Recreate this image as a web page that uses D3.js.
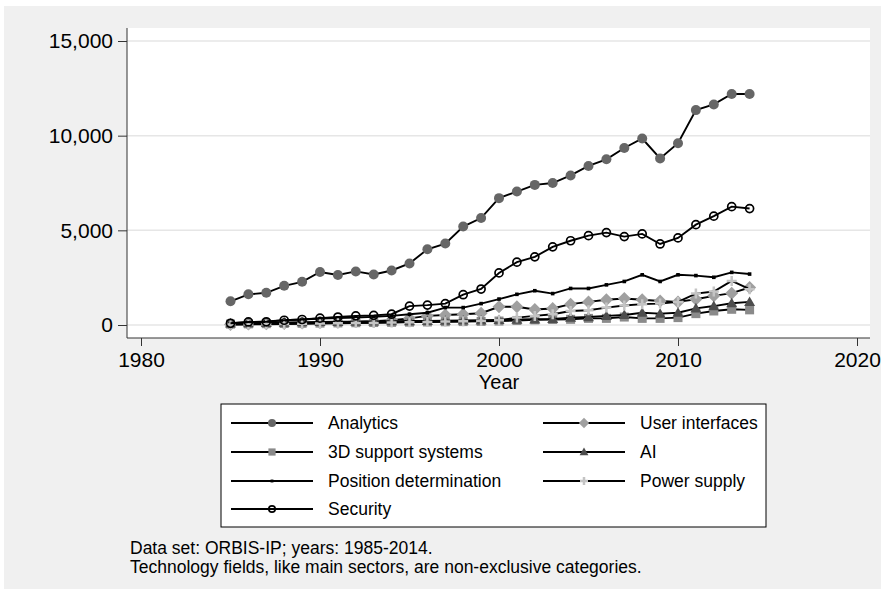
<!DOCTYPE html>
<html>
<head>
<meta charset="utf-8">
<script src="https://cdn.jsdelivr.net/npm/d3@7"></script>
<style>
  body { margin: 0; background: #fff; }
  text { font-family: "Liberation Sans", Arial, sans-serif; fill: #000; }
</style>
</head>
<body>
<svg></svg>
<script>
const width = 881;
const height = 589;

//datos
const years = d3.range(1985, 2015);
const analytics = [1250, 1620, 1700, 2070, 2280, 2800, 2640, 2830, 2670, 2880, 3250, 4000, 4300, 5200, 5650, 6700, 7050, 7400, 7500, 7900, 8400, 8750, 9350, 9850, 8800, 9600, 11350, 11650, 12200, 12200];
const userInterfaces = [30, 50, 60, 80, 100, 130, 150, 180, 200, 260, 350, 480, 530, 570, 620, 960, 960, 820, 870, 1100, 1220, 1330, 1400, 1330, 1270, 1220, 1360, 1540, 1680, 1980];
const support3d = [50, 60, 70, 80, 90, 100, 110, 120, 130, 140, 150, 160, 170, 180, 190, 210, 240, 270, 290, 300, 350, 350, 420, 350, 350, 390, 600, 740, 830, 800];
const ai = [80, 100, 110, 130, 150, 160, 170, 180, 190, 200, 210, 220, 230, 240, 250, 270, 290, 300, 320, 390, 420, 480, 530, 650, 600, 650, 880, 1000, 1150, 1220];
const position = [100, 150, 190, 250, 290, 340, 370, 400, 430, 480, 570, 650, 920, 920, 1130, 1370, 1620, 1810, 1660, 1930, 1930, 2120, 2300, 2650, 2300, 2650, 2610, 2520, 2780, 2690];
const power = [20, 30, 40, 50, 60, 80, 90, 100, 110, 130, 150, 160, 180, 200, 220, 250, 390, 480, 570, 740, 780, 920, 1030, 1100, 1130, 1220, 1660, 1770, 2330, 1890];
const security = [90, 160, 170, 250, 290, 360, 420, 480, 510, 570, 1000, 1050, 1130, 1600, 1900, 2750, 3320, 3600, 4130, 4450, 4720, 4880, 4670, 4810, 4280, 4600, 5300, 5750, 6250, 6150];

const xTicks = [1980, 1990, 2000, 2010, 2020];
const yTicks = [0, 5000, 10000, 15000];
const notes = ["Data set: ORBIS-IP; years: 1985-2014.", "Technology fields, like main sectors, are non-exclusive categories."];

const series = [
  { name: "Analytics", values: analytics, marker: "circle", color: "#666666" },
  { name: "User interfaces", values: userInterfaces, marker: "diamond", color: "#a0a0a0" },
  { name: "3D support systems", values: support3d, marker: "square", color: "#8a8a8a" },
  { name: "AI", values: ai, marker: "triangle", color: "#4d4d4d" },
  { name: "Position determination", values: position, marker: "small", color: "#000000" },
  { name: "Power supply", values: power, marker: "plus", color: "#c4c4c4" },
  { name: "Security", values: security, marker: "hollow", color: "#000000" }
];

const plot = { left: 127, right: 870, top: 28, bottom: 338 };

const svg = d3.select("svg").attr("width", width).attr("height", height);

//fondo
svg.append("rect").attr("x", 4).attr("y", 6).attr("width", width - 4).attr("height", height - 6).attr("fill", "#f0f0f0");
svg.append("rect")
  .attr("x", plot.left).attr("y", plot.top)
  .attr("width", plot.right - plot.left).attr("height", plot.bottom - plot.top)
  .attr("fill", "#fff");

//escalas
const x = d3.scaleLinear().domain([1980, 2020]).range([141, 857]);
const y = d3.scaleLinear().domain([0, 15000]).range([325, 41]);

//grid
svg.append("g")
  .selectAll("line")
  .data(yTicks)
  .join("line")
  .attr("x1", plot.left).attr("x2", plot.right)
  .attr("y1", d => y(d)).attr("y2", d => y(d))
  .attr("stroke", "#e6e6e6").attr("stroke-width", 1.5);

//ejeY
const gy = svg.append("g")
  .attr("transform", `translate(${plot.left},0)`)
  .call(d3.axisLeft(y).tickValues(yTicks).tickFormat(d3.format(",")).tickSize(9).tickPadding(5));
gy.select(".domain").attr("d", `M0,${plot.top}V${plot.bottom}`).attr("stroke", "#333");
gy.selectAll(".tick line").attr("stroke", "#333");
gy.selectAll("text").style("font-size", "21px").attr("font-family", "Liberation Sans, Arial, sans-serif");

//ejeX
const gx = svg.append("g")
  .attr("transform", `translate(0,${plot.bottom})`)
  .call(d3.axisBottom(x).tickValues(xTicks).tickFormat(d3.format("d")).tickSize(8).tickPadding(6));
gx.select(".domain").attr("d", `M${plot.left},0H${plot.right}`).attr("stroke", "#333");
gx.selectAll(".tick line").attr("stroke", "#333");
gx.selectAll("text").style("font-size", "21px").attr("font-family", "Liberation Sans, Arial, sans-serif");

//etiqueta x
svg.append("text")
  .attr("x", (x(1980) + x(2020)) / 2)
  .attr("y", 389)
  .attr("text-anchor", "middle")
  .style("font-size", "20px")
  .text("Year");

//marcadores
function drawMarker(g, type, color, cx, cy, scale) {
  const s = scale || 1;
  if (type === "circle") {
    g.append("circle").attr("cx", cx).attr("cy", cy).attr("r", 5 * s).attr("fill", color);
  } else if (type === "diamond") {
    const r = 6.5 * s;
    g.append("path").attr("d", `M${cx},${cy - r}L${cx + r},${cy}L${cx},${cy + r}L${cx - r},${cy}Z`).attr("fill", color);
  } else if (type === "square") {
    const r = 4.5 * s;
    g.append("rect").attr("x", cx - r).attr("y", cy - r).attr("width", 2 * r).attr("height", 2 * r).attr("fill", color);
  } else if (type === "triangle") {
    const r = 5.5 * s;
    g.append("path").attr("d", `M${cx},${cy - r}L${cx + r},${cy + r * 0.75}L${cx - r},${cy + r * 0.75}Z`).attr("fill", color);
  } else if (type === "small") {
    const r = 1.8 * s;
    g.append("rect").attr("x", cx - r).attr("y", cy - r).attr("width", 2 * r).attr("height", 2 * r).attr("fill", color);
  } else if (type === "plus") {
    const r = 5 * s;
    g.append("path").attr("d", `M${cx - r},${cy}H${cx + r}M${cx},${cy - r}V${cy + r}`).attr("stroke", color).attr("stroke-width", 2.5);
  } else if (type === "hollow") {
    g.append("circle").attr("cx", cx).attr("cy", cy).attr("r", 4 * s).attr("fill", "none").attr("stroke", color).attr("stroke-width", 1.7);
  }
}

const line = d3.line().x((d, i) => x(years[i])).y(d => y(d));

series.forEach(s => {
  const g = svg.append("g");
  g.append("path")
    .datum(s.values)
    .attr("d", line)
    .attr("fill", "none")
    .attr("stroke", "#000")
    .attr("stroke-width", 1.9);
  s.values.forEach((v, i) => drawMarker(g, s.marker, s.color, x(years[i]), y(v)));
});

//leyenda
const legend = svg.append("g");
legend.append("rect")
  .attr("x", 221).attr("y", 404).attr("width", 545).attr("height", 123)
  .attr("fill", "#fff").attr("stroke", "#000").attr("stroke-width", 1);

const cols = [231, 543];
const rows = [423, 452, 481, 509];
series.forEach((s, i) => {
  const cx = cols[i % 2];
  const cy = rows[Math.floor(i / 2)];
  legend.append("line")
    .attr("x1", cx).attr("x2", cx + 82).attr("y1", cy).attr("y2", cy)
    .attr("stroke", "#000").attr("stroke-width", 1.9);
  drawMarker(legend, s.marker, s.color, cx + 41, cy, 0.8);
  legend.append("text")
    .attr("x", cx + 97).attr("y", cy + 6)
    .style("font-size", "17.5px")
    .text(s.name);
});

//notas
svg.append("g")
  .selectAll("text")
  .data(notes)
  .join("text")
  .attr("x", 130)
  .attr("y", (d, i) => 554 + i * 19)
  .style("font-size", "17.5px")
  .text(d => d);
</script>
</body>
</html>
